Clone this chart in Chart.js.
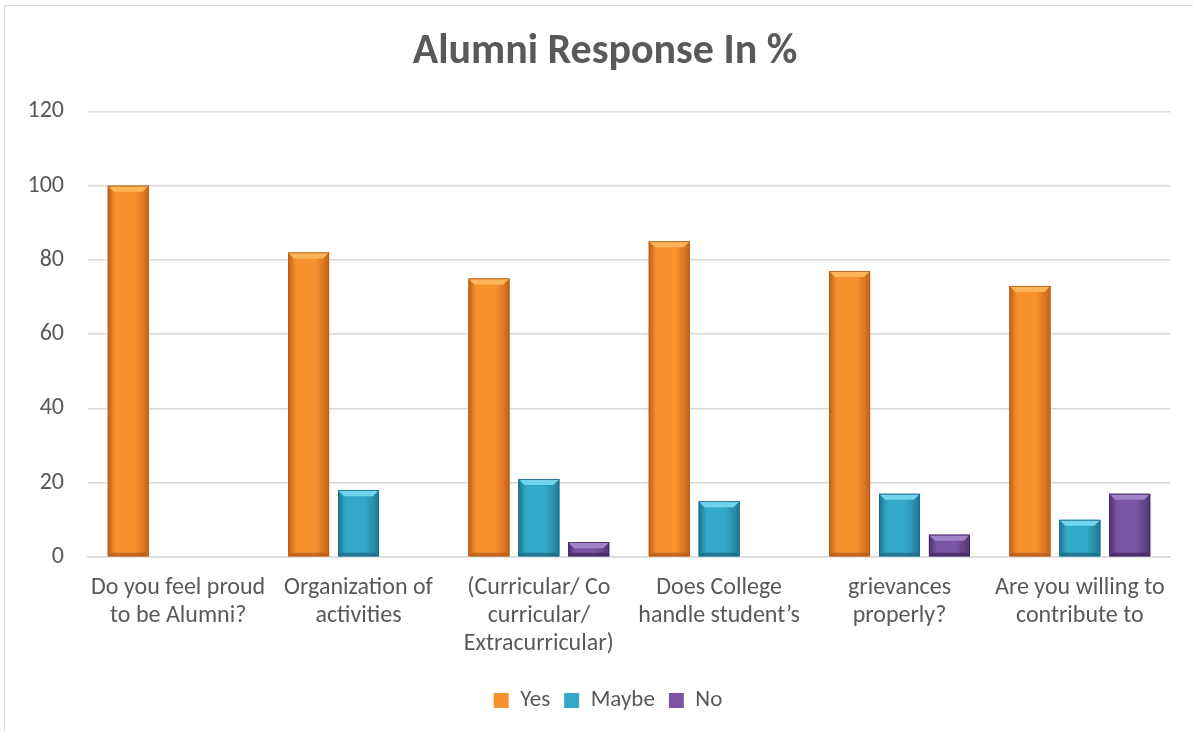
<!DOCTYPE html>
<html>
<head>
<meta charset="utf-8">
<script src="https://cdn.jsdelivr.net/npm/chart.js@4.4.1/dist/chart.umd.min.js"></script>
<style>
  html, body { margin: 0; padding: 0; background: #fff; }
  #wrap { position: relative; width: 1193px; height: 731px; overflow: hidden; }
  #frame { position: absolute; left: 4px; top: 5px; width: 1300px; height: 800px;
           border-left: 1.5px solid #d9d9d9; border-top: 1.5px solid #d9d9d9; pointer-events: none; }
  canvas { position: absolute; left: 0; top: 0; }
</style>
</head>
<body>
<div id="wrap">
  <canvas id="c" width="1193" height="731"></canvas>
  <div id="frame"></div>
</div>
<script>
const categories = [
  ["Do you feel proud", "to be Alumni?"],
  ["Organization of", "activities"],
  ["(Curricular/ Co", "curricular/", "Extracurricular)"],
  ["Does College", "handle student\u2019s"],
  ["grievances", "properly?"],
  ["Are you willing to", "contribute to"]
];
const yesValues   = [100, 82, 75, 85, 77, 73];
const maybeValues = [0, 18, 21, 15, 17, 10];
const noValues    = [0, 0, 4, 0, 6, 17];
const seriesNames = ["Yes", "Maybe", "No"];
const yTicks = [0, 20, 40, 60, 80, 100, 120];

const palettes = [
  { face: "#f7922f", light: "#fdb55a", dark: "#c9671c", edge: "#b35a17" },
  { face: "#33a9c9", light: "#6fd6ee", dark: "#1f7d98", edge: "#196a82" },
  { face: "#7a55a3", light: "#a285c8", dark: "#55367a", edge: "#3f2660" }
];

const FONT = "Carlito, Calibri, Lato, 'Open Sans', sans-serif";
const TXT = "#595959";

const bevelPlugin = {
  id: "bevel",
  afterLayout(chart) {
    // centre title and legend like the original (offset from the plot's full width)
    chart.titleBlock.left = 40;
    chart.legend.left = 46;
  },
  afterDatasetsDraw(chart) {
    const ctx = chart.ctx;
    chart.data.datasets.forEach((ds, di) => {
      const meta = chart.getDatasetMeta(di);
      const p = palettes[di];
      meta.data.forEach(el => {
        const { x, y, width, base } = el.getProps(["x", "y", "width", "base"], true);
        const l = x - width / 2, r = x + width / 2, t = Math.min(y, base), b = Math.max(y, base);
        const h = b - t;
        if (h < 1) return;
        const bv = Math.min(6, h / 2);
        ctx.save();
        const g = ctx.createLinearGradient(l, 0, r, 0);
        g.addColorStop(0, p.dark);
        g.addColorStop(0.2, p.face);
        g.addColorStop(0.65, p.face);
        g.addColorStop(1, p.dark);
        ctx.fillStyle = g;
        ctx.fillRect(l, t, width, h);
        ctx.fillStyle = p.light;
        ctx.beginPath();
        ctx.moveTo(l, t); ctx.lineTo(r, t); ctx.lineTo(r - bv, t + bv); ctx.lineTo(l + bv, t + bv); ctx.closePath();
        ctx.fill();
        ctx.fillStyle = p.dark;
        ctx.globalAlpha = 0.5;
        ctx.beginPath();
        ctx.moveTo(l, t); ctx.lineTo(l + bv * 0.6, t + bv); ctx.lineTo(l + bv * 0.6, b - bv * 0.6); ctx.lineTo(l, b); ctx.closePath();
        ctx.fill();
        ctx.beginPath();
        ctx.moveTo(r, t); ctx.lineTo(r - bv * 0.6, t + bv); ctx.lineTo(r - bv * 0.6, b - bv * 0.6); ctx.lineTo(r, b); ctx.closePath();
        ctx.fill();
        ctx.globalAlpha = 0.7;
        ctx.fillStyle = p.edge;
        ctx.beginPath();
        ctx.moveTo(l, b); ctx.lineTo(r, b); ctx.lineTo(r - bv * 0.6, b - bv * 0.6); ctx.lineTo(l + bv * 0.6, b - bv * 0.6); ctx.closePath();
        ctx.fill();
        ctx.globalAlpha = 1;
        ctx.strokeStyle = p.edge;
        ctx.lineWidth = 0.8;
        ctx.strokeRect(l + 0.4, t + 0.4, width - 0.8, h - 0.8);
        ctx.restore();
      });
    });
  }
};

const chart = new Chart(document.getElementById("c"), {
  type: "bar",
  data: {
    labels: categories,
    datasets: [
      { label: seriesNames[0], data: yesValues, backgroundColor: palettes[0].face },
      { label: seriesNames[1], data: maybeValues, backgroundColor: palettes[1].face },
      { label: seriesNames[2], data: noValues, backgroundColor: palettes[2].face }
    ]
  },
  options: {
    responsive: false,
    animation: false,
    layout: { padding: { left: 0, right: 23, top: 0, bottom: 9 } },
    datasets: { bar: { categoryPercentage: 0.83, barPercentage: 0.82 } },
    plugins: {
      title: {
        display: true,
        text: "Alumni Response In %",
        color: TXT,
        font: { family: FONT, size: 42, weight: "bold" },
        padding: { top: 27, bottom: 34 }
      },
      legend: {
        position: "bottom",
        labels: {
          color: TXT,
          font: { family: FONT, size: 23 },
          boxWidth: 15, boxHeight: 15,
          padding: 14
        }
      },
      tooltip: { enabled: false }
    },
    scales: {
      x: {
        afterFit(s) { s.height = 118; },
        grid: { display: false, drawTicks: false },
        border: { display: true, color: "#d9d9d9", width: 1.5 },
        ticks: {
          color: TXT, maxRotation: 0, autoSkip: false, padding: 17,
          font: { family: FONT, size: 24, lineHeight: 1.17 }
        }
      },
      y: {
        min: 0, max: 120,
        afterBuildTicks(s) { s.ticks = yTicks.map(v => ({ value: v })); },
        afterFit(s) { s.width = 88; },
        grid: { color: "#d9d9d9", lineWidth: 1.5, drawTicks: false },
        border: { display: false },
        ticks: {
          color: TXT, padding: 24,
          font: { family: FONT, size: 24 }
        }
      }
    }
  },
  plugins: [bevelPlugin]
});
</script>
</body>
</html>
